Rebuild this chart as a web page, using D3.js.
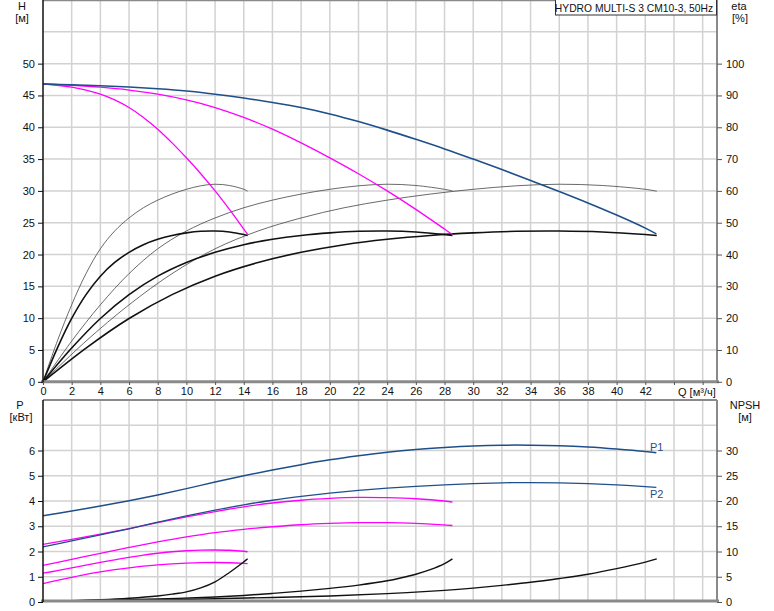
<!DOCTYPE html>
<html><head><meta charset="utf-8">
<script src="https://cdn.jsdelivr.net/npm/d3@7"></script>
<style>
html,body{margin:0;padding:0;background:#fff;}
svg{display:block;font-family:"Liberation Sans",Arial,sans-serif;}
</style></head>
<body>
<script>
// ---------- DATA ----------
const title = "HYDRO MULTI-S 3 CM10-3, 50Hz";
const xTickLabels = [0,2,4,6,8,10,12,14,16,18,20,22,24,26,28,30,32,34,36,38,40,42];
const xGrid = [2,4,6,8,10,12,14,16,18,20,22,24,26,28,30,32,34,36,38,40,42,44,46];
const hTicks = [0,5,10,15,20,25,30,35,40,45,50];
const hGrid = [5,10,15,20,25,30,35,40,45,50,55];
const etaTicks = [0,10,20,30,40,50,60,70,80,90,100];
const pTicks = [0,1,2,3,4,5,6];
const pGrid = [1,2,3,4,5,6,7];
const npshTicks = [0,5,10,15,20,25,30];

// Q values for 3, 2 and 1 running pumps
const q3 = [0,2,4,6,8,10,12,14,16,18,20,22,24,26,28,30,32,34,36,38,40,42,42.77];
const q2 = [0,2,4,6,8,10,12,14,16,18,20,22,24,26,28,28.55];
const q1 = [0,1,2,3,4,5,6,7,8,9,10,11,12,13,14,14.27];
const qEta3 = [0,3,6,9,12,15,18,21,24,27,30,33,36,39,42,42.8];

// head [m]
const head3 = [46.8,46.68,46.52,46.32,46.05,45.7,45.2,44.6,43.9,43.1,42.1,40.9,39.55,38.1,36.6,35.0,33.35,31.65,29.9,28.1,26.2,24.15,23.25];
const head2 = [46.8,46.6,46.3,45.85,45.2,44.3,43.1,41.55,39.7,37.55,35.2,32.7,30.0,27.1,24.0,23.15];
const head1 = [46.8,46.6,46.3,45.85,45.2,44.3,43.1,41.55,39.7,37.55,35.2,32.7,30.0,27.1,24.0,23.15];

// efficiency [%]: pump (thin) and total (thick)
const etaPump3 = [0,12.8,24.2,34.0,41.8,47.4,51.5,54.7,57.1,59.0,60.5,61.6,62.1,61.7,60.5,59.9];
const etaPump2 = [0,12.8,24.2,34.0,41.8,47.4,51.5,54.7,57.1,59.0,60.5,61.6,62.1,61.7,60.5,60.0];
const etaPump1 = [0,12.8,24.2,34.0,41.8,47.4,51.5,54.7,57.1,59.0,60.5,61.6,62.1,61.7,60.5,59.9];
const etaTot3 = [0,10.6,19.9,27.4,33.2,37.5,40.7,43.1,44.8,46.0,46.8,47.3,47.4,47.1,46.3,46.0];
const etaTot2 = [0,10.6,19.9,27.4,33.2,37.5,40.7,43.1,44.8,46.0,46.8,47.3,47.4,47.1,46.3,46.0];
const etaTot1 = [0,10.6,19.9,27.4,33.2,37.5,40.7,43.1,44.8,46.0,46.8,47.3,47.4,47.1,46.3,46.0];

// power [kW]
const p1_3 = [3.42,3.6,3.8,4.01,4.24,4.49,4.75,5.0,5.23,5.44,5.63,5.79,5.93,6.04,6.12,6.18,6.21,6.21,6.19,6.14,6.06,5.96,5.91];
const p2_3 = [2.18,2.42,2.66,2.9,3.16,3.41,3.64,3.85,4.03,4.18,4.31,4.42,4.51,4.58,4.64,4.69,4.72,4.73,4.72,4.69,4.64,4.57,4.54];
const p1_2 = [2.28,2.48,2.69,2.91,3.14,3.37,3.58,3.77,3.92,4.03,4.10,4.14,4.13,4.09,4.0,3.96];
const p2_2 = [1.45,1.69,1.93,2.16,2.38,2.58,2.75,2.88,2.98,3.06,3.11,3.14,3.14,3.11,3.05,3.03];
const p1_1 = [1.14,1.24,1.35,1.46,1.57,1.67,1.77,1.86,1.93,1.99,2.03,2.055,2.06,2.05,2.01,1.99];
const p2_1 = [0.73,0.855,0.975,1.09,1.19,1.28,1.355,1.42,1.47,1.51,1.54,1.56,1.565,1.555,1.53,1.52];

// NPSH [m]
const qN3 = [0,4,8,12,16,20,24,28,30,32,34,36,38,40,42,42.8];
const npsh3 = [0.2,0.3,0.45,0.65,0.9,1.2,1.65,2.3,2.75,3.3,3.9,4.65,5.5,6.6,7.9,8.55];
const qN2 = [0,4,8,12,14,16,18,20,22,24,25,26,27,28,28.55];
const npsh2 = [0.2,0.35,0.6,1.0,1.3,1.7,2.15,2.7,3.35,4.2,4.8,5.5,6.4,7.6,8.55];
const qN1 = [0,2,4,6,8,9,10,11,12,13,14,14.27];
const npsh1 = [0.15,0.25,0.45,0.75,1.2,1.55,2.0,2.8,4.0,5.85,7.95,8.55];

// ---------- CHART ----------
const W = 774, H = 611;
const svg = d3.select("body").append("svg").attr("width", W).attr("height", H);

const x = d3.scaleLinear().domain([0,47]).range([43,717]);
const yH = d3.scaleLinear().domain([0,60]).range([381.8,0]);
const yEta = d3.scaleLinear().domain([0,120]).range([381.8,0]);
const yP = d3.scaleLinear().domain([0,8]).range([602,400]);
const yN = d3.scaleLinear().domain([0,40]).range([602,400]);

const gridCol = "#d2d2d2";
const blue = "#1f4f8a", mag = "#ff00ff";

function grid(yScale, yVals, y0, y1){
  const g = svg.append("g");
  g.selectAll(".v").data(xGrid).join("line")
    .attr("x1", d=>x(d)).attr("x2", d=>x(d)).attr("y1", y0).attr("y2", y1)
    .attr("stroke", gridCol).attr("stroke-width", 1.5);
  g.selectAll(".h").data(yVals).join("line")
    .attr("x1", x(0)).attr("x2", x(47)).attr("y1", d=>yScale(d)).attr("y2", d=>yScale(d))
    .attr("stroke", gridCol).attr("stroke-width", 1.5);
}
grid(yH, hGrid, 0, 381.8);
grid(yP, pGrid, 400, 602);

function curve(qs, vs, yScale, color, width){
  const line = d3.line().x(d=>x(d[0])).y(d=>yScale(d[1])).curve(d3.curveCatmullRom.alpha(0.5));
  svg.append("path").datum(qs.map((q,i)=>[q, vs[i]]))
    .attr("d", line).attr("fill","none").attr("stroke", color).attr("stroke-width", width)
    .attr("stroke-linejoin","round");
}

// efficiency curves
curve(q1, etaPump1, yEta, "#444", 0.8);
curve(q2, etaPump2, yEta, "#444", 0.8);
curve(qEta3, etaPump3, yEta, "#444", 0.8);
curve(q1, etaTot1, yEta, "#111", 1.6);
curve(q2, etaTot2, yEta, "#111", 1.6);
curve(qEta3, etaTot3, yEta, "#111", 1.6);
// head curves
curve(q1, head1, yH, mag, 1.3);
curve(q2, head2, yH, mag, 1.3);
curve(q3, head3, yH, blue, 1.6);

// power curves
curve(q1, p1_1, yP, mag, 1.3);
curve(q1, p2_1, yP, mag, 1.3);
curve(q2, p1_2, yP, mag, 1.3);
curve(q2, p2_2, yP, mag, 1.3);
curve(q3, p1_3, yP, blue, 1.5);
curve(q3, p2_3, yP, blue, 1.3);
// NPSH
curve(qN1, npsh1, yN, "#111", 1.4);
curve(qN2, npsh2, yN, "#111", 1.4);
curve(qN3, npsh3, yN, "#111", 1.4);

// frames / axis lines
const axCol = "#8a8a8a";
svg.append("line").attr("x1",43).attr("x2",717).attr("y1",0.5).attr("y2",0.5).attr("stroke",axCol).attr("stroke-width",1.5);
svg.append("line").attr("x1",43).attr("x2",717).attr("y1",400).attr("y2",400).attr("stroke",axCol).attr("stroke-width",2);
svg.append("line").attr("x1",41).attr("x2",719).attr("y1",381.8).attr("y2",381.8).attr("stroke",axCol).attr("stroke-width",3);
svg.append("line").attr("x1",41).attr("x2",719).attr("y1",601).attr("y2",601).attr("stroke",axCol).attr("stroke-width",3);
svg.append("line").attr("x1",43).attr("x2",43).attr("y1",0).attr("y2",382).attr("stroke","#111").attr("stroke-width",1.5);
svg.append("line").attr("x1",43).attr("x2",43).attr("y1",400).attr("y2",602).attr("stroke","#111").attr("stroke-width",1.5);
svg.append("line").attr("x1",717).attr("x2",717).attr("y1",0).attr("y2",382).attr("stroke",axCol).attr("stroke-width",2);
svg.append("line").attr("x1",717).attr("x2",717).attr("y1",400).attr("y2",602).attr("stroke",axCol).attr("stroke-width",2);

function styleAxis(g){
  g.select(".domain").remove();
  g.selectAll("text").attr("font-size","11px").attr("fill","#111")
    .attr("font-family",'"Liberation Sans",Arial,sans-serif');
}
svg.append("g").attr("transform","translate(43,0)")
  .call(d3.axisLeft(yH).tickValues(hTicks).tickSize(5).tickPadding(3)).call(styleAxis)
  .selectAll("line").attr("stroke","#111");
svg.append("g").attr("transform","translate(717,0)")
  .call(d3.axisRight(yEta).tickValues(etaTicks).tickSize(5).tickPadding(4)).call(styleAxis)
  .selectAll("line").attr("stroke","#555");
svg.append("g").attr("transform","translate(43,0)")
  .call(d3.axisLeft(yP).tickValues(pTicks).tickSize(5).tickPadding(3)).call(styleAxis)
  .selectAll("line").attr("stroke","#111");
svg.append("g").attr("transform","translate(717,0)")
  .call(d3.axisRight(yN).tickValues(npshTicks).tickSize(5).tickPadding(4)).call(styleAxis)
  .selectAll("line").attr("stroke","#555");
const xa = svg.append("g").attr("transform","translate(0,382)")
  .call(d3.axisBottom(x).tickValues(xTickLabels.concat([44,46])).tickSize(3).tickPadding(2)
     .tickFormat(d=> xTickLabels.includes(d) ? d : "")).call(styleAxis);
xa.selectAll("line").attr("stroke","#555");

function txt(s, tx, ty, anchor, col, fs){
  svg.append("text").attr("x",tx).attr("y",ty).attr("text-anchor",anchor||"middle")
    .attr("font-size",(fs||11)+"px").attr("fill",col||"#111").text(s);
}
txt("H", 22, 10);
txt("[м]", 22, 22);
txt("eta", 739, 10);
txt("[%]", 740, 22);
txt("P", 20, 409);
txt("[кВт]", 21, 421);
txt("NPSH", 745, 409);
txt("[м]", 745, 421);
txt("Q [м³/ч]", 678, 396, "start");

txt("P1", 650, 451, "start", blue);
txt("P2", 650, 498, "start", blue);

// title box
svg.append("rect").attr("x",555.5).attr("y",-0.5).attr("width",161).attr("height",15.5)
  .attr("fill","#fff").attr("stroke","#333").attr("stroke-width",1);
txt(title, 634, 11.5, "middle", "#111", 10.3);
</script>
</body></html>
